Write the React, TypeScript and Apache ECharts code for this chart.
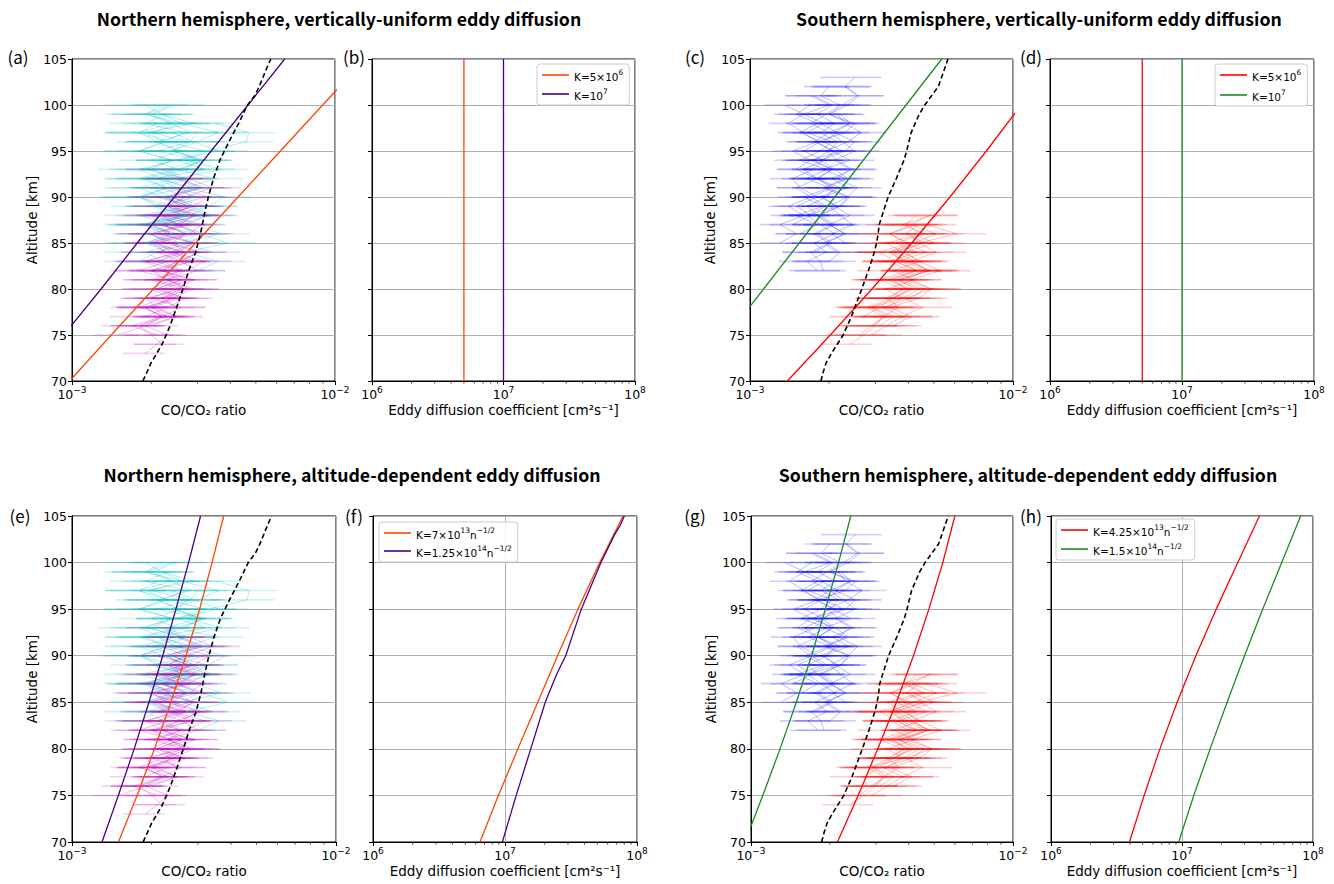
import React, { useEffect, useRef } from "react";
import * as echarts from "echarts";

// ---------------- data ----------------
// model CO/CO2 profiles (values x 1e-3) at these altitudes [km]
const MODEL_ALT = [70, 75, 80, 85, 90, 95, 100, 105];
const N_UNI_K5E6 = [0.98, 1.41, 2.04, 2.95, 4.28, 6.2, 8.98, 13.0];
const N_UNI_K1E7 = [0.675, 0.93, 1.29, 1.77, 2.45, 3.38, 4.67, 6.44];
const S_UNI_K5E6 = [1.387, 2.02, 2.91, 4.12, 5.76, 7.92, 10.74, 14.35];
const S_UNI_K1E7 = [0.603, 0.824, 1.126, 1.54, 2.1, 2.87, 3.92, 5.36];
const N_DEP_K7E13 = [1.5, 1.764, 2.053, 2.369, 2.702, 3.045, 3.393, 3.754];
const N_DEP_K125E14 = [1.299, 1.498, 1.72, 1.957, 2.206, 2.475, 2.764, 3.069];
const S_DEP_K425E13 = [2.138, 2.564, 3.048, 3.589, 4.169, 4.775, 5.395, 5.998];
const S_DEP_K15E14 = [0.948, 1.109, 1.291, 1.489, 1.702, 1.923, 2.158, 2.404];

// mean observed profiles (dashed), x 1e-3
const N_MEAN_ALT = [70, 71, 72, 73, 74, 75, 76, 78, 80, 82, 84, 86, 88, 90, 92, 94, 96, 98, 100, 101, 102, 104, 105];
const N_MEAN = [1.86, 1.93, 2.0, 2.1, 2.2, 2.28, 2.36, 2.5, 2.64, 2.78, 2.95, 3.08, 3.18, 3.3, 3.45, 3.65, 3.95, 4.3, 4.65, 4.95, 5.15, 5.5, 5.7];
const S_MEAN_ALT = [70, 71, 72, 73, 75, 77, 80, 82, 84, 85, 86, 87, 88, 90, 92, 94, 95, 97, 99, 100, 101, 102, 103, 105];
const S_MEAN = [1.86, 1.9, 1.95, 2.04, 2.26, 2.43, 2.66, 2.82, 2.97, 3.03, 3.07, 3.1, 3.18, 3.35, 3.6, 3.85, 3.94, 4.1, 4.4, 4.62, 4.9, 5.2, 5.35, 5.66];

// eddy diffusion coefficient profiles [cm2 s-1]
const K_UNI_ALT = [70, 105];
const K_UNI_5E6 = [5e6, 5e6];
const K_UNI_1E7 = [1e7, 1e7];
const F_ALT_A = [70, 75, 80, 85, 90, 95, 100, 105];
const F_K7E13 = [6.46e6, 8.91e6, 1.253e7, 1.77e7, 2.5e7, 3.57e7, 5.22e7, 7.83e7];
const F_ALT_B = [70, 75, 80, 85, 86, 87, 88, 89, 90, 95, 100, 103, 104, 105];
const F_K125E14 = [9.55e6, 1.216e7, 1.567e7, 2.018e7, 2.153e7, 2.301e7, 2.466e7, 2.661e7, 2.884e7, 3.784e7, 5.333e7, 6.76e7, 7.46e7, 8.02e7];
const H_ALT = [70, 75, 80, 85, 90, 95, 100, 105];
const H_K425E13 = [3.97e6, 5.14e6, 6.78e6, 9.18e6, 1.276e7, 1.824e7, 2.667e7, 3.9e7];
const H_K15E14 = [9.44e6, 1.23e7, 1.64e7, 2.21e7, 3.0e7, 4.13e7, 5.77e7, 8.05e7];

// individual observed profiles (x 1e-3), 1 km steps from start altitude,
// with a relative error per profile
const N_CYAN_START = [84, 82, 83, 85, 82, 84, 86, 83, 87, 85];
const N_CYAN_RELERR = [0.3, 0.27, 0.27, 0.25, 0.3, 0.28, 0.3, 0.26, 0.3, 0.3];
const N_CYAN = [
  [2.3, 1.9, 2.8, 2.2, 3.1, 2.4, 1.8, 2.7, 2.2, 1.8, 2.5, 3.2, 2.3, 1.9, 2.9, 2.2, 1.9],
  [3.0, 3.6, 2.7, 3.9, 3.1, 2.4, 3.4, 2.8, 2.2, 3.2, 2.5, 3.7, 2.7, 3.3, 4.6, 4.7, 3.5],
  [2.1, 2.6, 1.9, 2.4, 2.0, 2.8, 2.2, 1.8, 2.3, 2.7, 1.9, 2.4, 1.8, 2.2, 2.7, 1.9, 2.3],
  [1.9, 2.4, 1.8, 2.7, 2.1, 1.8, 2.3, 1.8, 2.5, 2.0, 2.6, 2.1, 1.8, 2.4, 1.9, 2.2],
  [2.7, 2.2, 1.9, 2.6, 3.0, 2.1, 2.8, 3.3, 2.3, 2.9, 2.1, 3.2, 2.5, 3.6, 2.9, 2.4],
  [3.4, 2.6, 3.7, 2.9, 2.4, 3.3, 3.8, 2.7, 3.5, 2.5, 3.2, 2.4, 3.0, 3.6, 2.6, 2.2],
  [2.2, 1.9, 2.7, 2.0, 3.0, 2.3, 1.9, 2.6, 3.1, 2.1, 2.8, 2.0, 2.6, 1.9, 2.4],
  [1.8, 2.1, 2.6, 1.9, 2.4, 1.8, 2.8, 2.2, 1.8, 2.5, 2.0, 2.4, 1.8, 2.3, 1.8, 2.1],
  [2.6, 2.1, 2.9, 2.4, 2.0, 2.7, 2.3, 3.0, 2.5, 2.1, 2.8, 2.4, 2.0, 2.5],
  [2.9, 2.4, 2.0, 2.6, 2.3, 2.9, 2.5, 2.1, 2.7, 3.1, 2.4, 2.8, 3.0],
];
const N_MAG_START = [75, 73, 76, 74, 77, 75, 78, 76, 79, 77];
const N_MAG_RELERR = [0.2, 0.18, 0.26, 0.22, 0.27, 0.24, 0.28, 0.22, 0.25, 0.26];
const N_MAG = [
  [1.5, 1.9, 2.2, 1.9, 2.5, 2.1, 2.6, 2.2, 2.8, 2.3, 2.0, 2.7, 2.2, 3.0, 2.4, 3.2],
  [1.9, 2.1, 2.3, 1.9, 2.5, 2.1, 1.9, 2.7, 2.3, 2.0, 2.9, 2.4, 2.1, 3.0, 2.5, 2.2],
  [2.0, 2.5, 2.0, 2.4, 2.9, 2.3, 2.7, 3.2, 2.4, 2.9, 2.2, 2.7, 3.3, 2.6, 2.3, 3.0, 2.5],
  [2.2, 2.0, 1.8, 2.3, 1.8, 2.2, 2.6, 2.0, 2.6, 1.9, 2.5, 2.9, 2.1, 2.6, 2.0, 2.7],
  [1.9, 2.3, 2.7, 2.1, 2.6, 2.0, 2.6, 3.0, 2.3, 2.0, 2.8, 2.2, 2.9, 2.4, 3.1, 2.6, 2.2],
  [2.1, 1.7, 2.2, 2.6, 2.0, 2.5, 2.9, 2.2, 1.9, 2.6, 2.1, 2.8, 3.1, 2.3, 2.9, 3.3, 2.5],
  [2.5, 2.2, 2.8, 2.3, 3.0, 2.6, 2.1, 2.8, 3.2, 2.5, 2.9, 2.3, 2.7, 3.4, 2.8],
  [1.8, 2.2, 1.9, 2.4, 2.0, 2.4, 1.8, 2.3, 2.7, 2.0, 2.5, 1.9, 2.4, 2.8, 2.1],
  [2.3, 2.7, 2.1, 2.6, 2.1, 2.7, 2.4, 2.0, 2.6, 2.9, 2.3, 2.7, 2.2],
  [2.3, 2.0, 2.6, 2.2, 2.8, 2.2, 2.5, 3.1, 2.4, 2.7, 2.2, 2.6, 3.0],
];
const S_BLUE_START = [85, 82, 84, 86, 83, 87, 84, 82, 88, 85];
const S_BLUE_RELERR = [0.16, 0.22, 0.24, 0.2, 0.26, 0.18, 0.24, 0.22, 0.2, 0.24];
const S_BLUE = [
  [1.3, 1.5, 1.3, 1.6, 1.4, 1.7, 1.5, 1.8, 1.5, 1.7, 1.45, 1.8, 1.6, 1.4, 1.6, 1.35],
  [1.8, 1.65, 1.95, 1.75, 2.1, 1.85, 1.65, 2.15, 1.85, 2.2, 1.8, 2.05, 1.7, 2.25, 1.9, 2.15, 1.85],
  [1.75, 2.05, 1.8, 2.1, 1.85, 2.2, 2.35, 1.9, 2.3, 1.9, 2.4, 2.05, 1.8, 2.3, 2.5, 2.0, 2.35, 2.6, 2.3],
  [1.55, 1.8, 1.5, 1.9, 1.6, 2.0, 1.65, 1.95, 1.55, 1.85, 2.05, 1.65, 1.9, 1.6, 2.0, 1.7],
  [2.0, 2.2, 1.95, 2.3, 2.0, 1.8, 2.2, 2.4, 1.95, 2.35, 2.1, 1.85, 2.3, 2.5, 2.1, 2.4, 2.0, 2.25, 2.55, 2.3, 2.5],
  [1.45, 1.7, 1.5, 1.8, 1.55, 1.45, 1.75, 1.9, 1.6, 1.85, 1.55, 1.8, 1.5, 1.7],
  [2.15, 1.9, 2.3, 2.0, 2.4, 2.1, 1.9, 2.35, 2.05, 2.45, 2.15, 1.95, 2.35, 2.65, 2.3, 2.15],
  [1.9, 1.85, 1.7, 2.0, 1.75, 2.05, 1.8, 1.65, 1.95, 2.1, 1.8, 2.05, 1.75, 2.0, 2.15, 1.85, 2.1, 1.8, 2.05, 1.75],
  [1.65, 1.95, 1.7, 2.05, 1.8, 1.6, 1.9, 2.1, 1.75, 2.0, 1.7, 1.95, 2.2, 1.85, 2.0],
  [2.3, 2.05, 2.45, 2.2, 2.0, 2.35, 2.55, 2.15, 2.4, 2.1, 2.5, 2.25, 2.0, 2.4, 2.2],
];
const S_RED_START = [74, 75, 76, 77, 76, 78, 75, 77, 79, 76];
const S_RED_RELERR = [0.22, 0.3, 0.27, 0.26, 0.28, 0.27, 0.25, 0.3, 0.28, 0.24];
const S_RED = [
  [2.4, 2.7, 3.0, 3.2, 2.8, 3.4, 3.8, 3.1, 4.0, 3.4, 4.3, 3.6, 4.6, 3.9, 4.3],
  [2.9, 3.3, 3.8, 3.2, 4.1, 4.6, 3.7, 4.8, 4.1, 5.1, 4.4, 6.1, 4.7],
  [3.1, 3.5, 2.9, 3.8, 3.3, 4.2, 3.5, 4.4, 3.8, 3.3, 4.5, 3.8, 4.9],
  [2.7, 3.1, 3.5, 4.1, 3.4, 4.3, 3.6, 4.7, 3.9, 3.4, 4.1],
  [3.5, 4.1, 3.4, 4.4, 4.9, 3.9, 4.7, 4.2, 3.6, 4.6, 4.0],
  [3.3, 3.8, 4.4, 3.6, 4.6, 3.9, 3.4, 4.2, 5.1, 4.1, 4.8],
  [2.6, 2.9, 3.3, 2.9, 3.5, 4.0, 3.3, 4.2, 3.6, 3.1, 4.0, 3.4, 4.3],
  [3.8, 4.5, 3.9, 4.9, 4.1, 5.3, 4.4, 3.9, 5.0, 4.2],
  [3.5, 4.2, 3.7, 4.8, 4.0, 3.5, 4.5, 3.9, 4.4],
  [2.9, 3.2, 3.7, 3.3, 3.9, 3.5, 4.3, 3.8, 3.4, 4.1],
];

const Y_MIN = 70;
const Y_MAX = 105;
const MINOR_MULT = [2, 3, 4, 5, 6, 7, 8, 9];

// ---------------- styling ----------------
const FONT = "DejaVu Sans";
const TITLE_FONT = "'Noto Sans CJK JP', 'Noto Sans', sans-serif";
const C_ORANGE = "#FF4500";
const C_INDIGO = "#4B0082";
const C_RED = "#FF0000";
const C_GREEN = "#1f8a1f";
const OBS = {
  cyan: { line: "rgba(0,191,191,0.3)", bar: "rgba(0,191,191,0.18)" },
  mag: { line: "rgba(191,0,191,0.28)", bar: "rgba(191,0,191,0.18)" },
  blue: { line: "rgba(0,0,255,0.27)", bar: "rgba(0,0,255,0.19)" },
  red: { line: "rgba(255,0,0,0.27)", bar: "rgba(255,0,0,0.19)" },
};

const GRIDS = [
  { left: 72, top: 59, width: 263, height: 322, kind: "co" },
  { left: 372, top: 59, width: 263, height: 322, kind: "k" },
  { left: 750, top: 59, width: 263, height: 322, kind: "co" },
  { left: 1050, top: 59, width: 264, height: 322, kind: "k" },
  { left: 72, top: 516, width: 264, height: 326, kind: "co" },
  { left: 373, top: 516, width: 264, height: 326, kind: "k" },
  { left: 751, top: 516, width: 262, height: 326, kind: "co" },
  { left: 1051, top: 516, width: 262, height: 326, kind: "k" },
];

const LEGEND_TEXT: Record<string, string> = {
  bK5e6: "{n|K=5×10}{s|6}",
  bK1e7: "{n|K=10}{s|7}",
  dK5e6: "{n|K=5×10}{s|6}",
  dK1e7: "{n|K=10}{s|7}",
  fK7e13: "{n|K=7×10}{s|13}{n|n}{s|−1/2}",
  fK125e14: "{n|K=1.25×10}{s|14}{n|n}{s|−1/2}",
  hK425e13: "{n|K=4.25×10}{s|13}{n|n}{s|−1/2}",
  hK15e14: "{n|K=1.5×10}{s|14}{n|n}{s|−1/2}",
};

function pairs(xs: number[], alts: number[], scale: number) {
  return xs.map((v, i) => [v * scale, alts[i]]);
}

function obsSeries(idx: number, starts: number[], profiles: number[][], relErr: number[], col: { line: string; bar: string }) {
  const out: any[] = [];
  const bars: number[][] = [];
  profiles.forEach((p, k) => {
    const data = p.map((v, j) => [v * 1e-3, starts[k] + j]);
    p.forEach((v, j) => {
      const s = v * relErr[k];
      bars.push([(v - s) * 1e-3, (v + s) * 1e-3, starts[k] + j]);
    });
    out.push({
      type: "line",
      xAxisIndex: idx,
      yAxisIndex: idx,
      data,
      symbol: "none",
      silent: true,
      z: 2,
      lineStyle: { color: col.line, width: 1 },
    });
  });
  out.push({
    type: "custom",
    xAxisIndex: idx,
    yAxisIndex: idx,
    data: bars,
    encode: { x: [0, 1], y: 2 },
    silent: true,
    z: 2,
    renderItem: (params: any, api: any) => {
      const a = api.coord([api.value(0), api.value(2)]);
      const b = api.coord([api.value(1), api.value(2)]);
      return {
        type: "line",
        shape: { x1: a[0], y1: a[1], x2: b[0], y2: b[1] },
        style: { stroke: col.bar, lineWidth: 1.6 },
      };
    },
  });
  return out;
}

function lineSeries(idx: number, name: string | undefined, data: number[][], color: string, extra: any = {}) {
  return {
    type: "line",
    name,
    xAxisIndex: idx,
    yAxisIndex: idx,
    data,
    symbol: "none",
    silent: true,
    z: 4,
    color,
    smooth: false,
    lineStyle: { color, width: 1.3 },
    ...extra,
  };
}

function minorTickSeries(idx: number, decades: number[]) {
  const vals: number[][] = [];
  decades.forEach((d) => MINOR_MULT.forEach((m) => vals.push([m * d, Y_MIN])));
  return {
    type: "custom",
    xAxisIndex: idx,
    yAxisIndex: idx,
    data: vals,
    encode: { x: 0, y: 1 },
    clip: false,
    silent: true,
    z: 6,
    renderItem: (params: any, api: any) => {
      const p = api.coord([api.value(0), Y_MIN]);
      return {
        type: "line",
        shape: { x1: p[0], y1: p[1], x2: p[0], y2: p[1] + 2.5 },
        style: { stroke: "#000", lineWidth: 0.8 },
      };
    },
  };
}

function buildOption() {
  const grid = GRIDS.map((g) => ({
    left: g.left,
    top: g.top,
    width: g.width,
    height: g.height,
    show: true,
    borderColor: "#000",
    borderWidth: 1,
    backgroundColor: "transparent",
  }));

  const supRich = {
    b: { fontSize: 12.5, fontFamily: FONT, color: "#000", lineHeight: 16, verticalAlign: "bottom" },
    s: { fontSize: 9, fontFamily: FONT, color: "#000", lineHeight: 10, verticalAlign: "top" },
  };

  const xAxis = GRIDS.map((g, i) => ({
    type: "log",
    logBase: 10,
    gridIndex: i,
    min: g.kind === "co" ? 0.001 : 1e6,
    max: g.kind === "co" ? 0.01 : 1e8,
    name: g.kind === "co" ? "CO/CO₂ ratio" : "Eddy diffusion coefficient [cm²s⁻¹]",
    nameLocation: "middle",
    nameGap: 22,
    nameTextStyle: { fontFamily: FONT, fontSize: 13.5, color: "#000" },
    axisLine: { show: true, lineStyle: { color: "#000", width: 1 } },
    axisTick: { show: true, length: 4, lineStyle: { color: "#000", width: 1 } },
    axisLabel: {
      show: true,
      margin: 4,
      showMinLabel: true,
      showMaxLabel: true,
      formatter: (v: number) => {
        const e = Math.round(Math.log10(v));
        return `{b|10}{s|${e < 0 ? "−" + -e : e}}`;
      },
      rich: supRich,
    },
    splitLine: { show: true, lineStyle: { color: "#b0b0b0", width: 1 } },
    minorTick: { show: false },
  }));

  const yAxis = GRIDS.map((g, i) => ({
    type: "value",
    gridIndex: i,
    min: Y_MIN,
    max: Y_MAX,
    interval: 5,
    name: g.kind === "co" ? "Altitude [km]" : "",
    nameLocation: "middle",
    nameGap: 29,
    nameRotate: 90,
    nameTextStyle: { fontFamily: FONT, fontSize: 13.5, color: "#000" },
    axisLine: { show: true, lineStyle: { color: "#000", width: 1 } },
    axisTick: { show: true, length: 4, lineStyle: { color: "#000", width: 1 } },
    axisLabel: { show: g.kind === "co", margin: 5, fontFamily: FONT, fontSize: 12.5, color: "#000" },
    splitLine: { show: true, lineStyle: { color: "#b0b0b0", width: 1 } },
  }));

  const dashed = { lineStyle: { color: "#000", width: 1.6, type: [5, 3] }, z: 5 };
  const series: any[] = [];
  [0, 4].forEach((idx) => {
    series.push(...obsSeries(idx, N_CYAN_START, N_CYAN, N_CYAN_RELERR, OBS.cyan));
    series.push(...obsSeries(idx, N_MAG_START, N_MAG, N_MAG_RELERR, OBS.mag));
    series.push(lineSeries(idx, undefined, pairs(N_MEAN, N_MEAN_ALT, 1e-3), "#000", dashed));
  });
  [2, 6].forEach((idx) => {
    series.push(...obsSeries(idx, S_BLUE_START, S_BLUE, S_BLUE_RELERR, OBS.blue));
    series.push(...obsSeries(idx, S_RED_START, S_RED, S_RED_RELERR, OBS.red));
    series.push(lineSeries(idx, undefined, pairs(S_MEAN, S_MEAN_ALT, 1e-3), "#000", dashed));
  });
  series.push(lineSeries(0, undefined, pairs(N_UNI_K5E6, MODEL_ALT, 1e-3), C_ORANGE));
  series.push(lineSeries(0, undefined, pairs(N_UNI_K1E7, MODEL_ALT, 1e-3), C_INDIGO));
  series.push(lineSeries(2, undefined, pairs(S_UNI_K5E6, MODEL_ALT, 1e-3), C_RED));
  series.push(lineSeries(2, undefined, pairs(S_UNI_K1E7, MODEL_ALT, 1e-3), C_GREEN));
  series.push(lineSeries(4, undefined, pairs(N_DEP_K7E13, MODEL_ALT, 1e-3), C_ORANGE));
  series.push(lineSeries(4, undefined, pairs(N_DEP_K125E14, MODEL_ALT, 1e-3), C_INDIGO));
  series.push(lineSeries(6, undefined, pairs(S_DEP_K425E13, MODEL_ALT, 1e-3), C_RED));
  series.push(lineSeries(6, undefined, pairs(S_DEP_K15E14, MODEL_ALT, 1e-3), C_GREEN));
  series.push(lineSeries(1, "bK5e6", pairs(K_UNI_5E6, K_UNI_ALT, 1), C_ORANGE));
  series.push(lineSeries(1, "bK1e7", pairs(K_UNI_1E7, K_UNI_ALT, 1), C_INDIGO));
  series.push(lineSeries(3, "dK5e6", pairs(K_UNI_5E6, K_UNI_ALT, 1), C_RED));
  series.push(lineSeries(3, "dK1e7", pairs(K_UNI_1E7, K_UNI_ALT, 1), C_GREEN));
  series.push(lineSeries(5, "fK7e13", pairs(F_K7E13, F_ALT_A, 1), C_ORANGE));
  series.push(lineSeries(5, "fK125e14", pairs(F_K125E14, F_ALT_B, 1), C_INDIGO));
  series.push(lineSeries(7, "hK425e13", pairs(H_K425E13, H_ALT, 1), C_RED));
  series.push(lineSeries(7, "hK15e14", pairs(H_K15E14, H_ALT, 1), C_GREEN));
  GRIDS.forEach((g, i) => series.push(minorTickSeries(i, g.kind === "co" ? [1e-3] : [1e6, 1e7])));

  const legRich = {
    n: { fontSize: 10.5, fontFamily: FONT, color: "#000", lineHeight: 14, verticalAlign: "bottom" },
    s: { fontSize: 7.5, fontFamily: FONT, color: "#000", lineHeight: 8, verticalAlign: "top" },
  };
  const mkLegend = (names: string[], left: number, top: number, gap: number) => ({
    data: names,
    left,
    top,
    orient: "vertical",
    icon: "rect",
    itemWidth: 27,
    itemHeight: 1.6,
    itemGap: gap,
    padding: [4, 6, 4, 5],
    backgroundColor: "rgba(255,255,255,0.85)",
    borderColor: "#cccccc",
    borderWidth: 1,
    borderRadius: 3,
    selectedMode: false,
    formatter: (n: string) => LEGEND_TEXT[n],
    textStyle: { fontFamily: FONT, fontSize: 10.5, color: "#000", rich: legRich },
  });
  const legend = [
    mkLegend(["bK5e6", "bK1e7"], 537, 64, 5),
    mkLegend(["dK5e6", "dK1e7"], 1215, 64, 6),
    mkLegend(["fK7e13", "fK125e14"], 379, 522, 4),
    mkLegend(["hK425e13", "hK15e14"], 1056, 519, 5),
  ];

  const titles = [
    { text: "Northern hemisphere, vertically-uniform eddy diffusion", x: 339, y: 18 },
    { text: "Southern hemisphere, vertically-uniform eddy diffusion", x: 1039, y: 18 },
    { text: "Northern hemisphere, altitude-dependent eddy diffusion", x: 352, y: 474 },
    { text: "Southern hemisphere, altitude-dependent eddy diffusion", x: 1028, y: 474 },
  ];
  const labels = [
    { text: "(a)", x: 18, y: 56 },
    { text: "(b)", x: 354, y: 56 },
    { text: "(c)", x: 695, y: 56 },
    { text: "(d)", x: 1031, y: 56 },
    { text: "(e)", x: 20, y: 515 },
    { text: "(f)", x: 354, y: 515 },
    { text: "(g)", x: 695, y: 515 },
    { text: "(h)", x: 1031, y: 515 },
  ];
  const graphic = [
    ...titles.map((t) => ({
      type: "text",
      x: t.x,
      y: t.y,
      silent: true,
      style: {
        text: t.text,
        fill: "#000",
        font: `bold 17.7px ${TITLE_FONT}`,
        textAlign: "center",
        textVerticalAlign: "middle",
      },
    })),
    ...labels.map((t) => ({
      type: "text",
      x: t.x,
      y: t.y,
      silent: true,
      style: {
        text: t.text,
        fill: "#000",
        font: `17px ${TITLE_FONT}`,
        textAlign: "center",
        textVerticalAlign: "middle",
      },
    })),
  ];

  return {
    animation: false,
    backgroundColor: "#ffffff",
    grid,
    xAxis,
    yAxis,
    legend,
    series,
    graphic,
  };
}

export default function App() {
  const ref = useRef<HTMLDivElement>(null);
  useEffect(() => {
    if (!ref.current) return;
    const chart = echarts.init(ref.current, undefined, { renderer: "svg" });
    chart.setOption(buildOption() as any);
    return () => chart.dispose();
  }, []);
  return (
    <div
      ref={ref}
      style={{ position: "absolute", left: 0, top: 0, width: 1334, height: 884, background: "#fff" }}
    />
  );
}
